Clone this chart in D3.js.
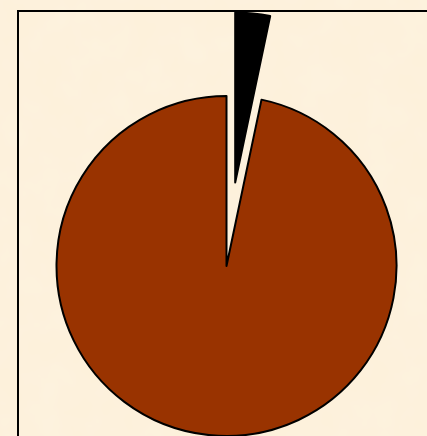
<!DOCTYPE html>
<html>
<head>
<meta charset="utf-8">
<script src="https://cdn.jsdelivr.net/npm/d3@7"></script>
<style>
  html, body { margin: 0; padding: 0; overflow: hidden; background: #fcf0da; }
</style>
</head>
<body>
<div id="app"></div>
<script>
// pie data
var labels = ["Part", "Rest"]
var values = [3.3, 96.7]
var colors = ["#000000", "#993300"]
var explode = [84, 0]

var w = 427
var h = 436
var cx = 226.5
var cy = 266
var r = 170

const svg = d3.select("#app")
    .append("svg")
    .attr("width", w)
    .attr("height", h)

// parchment texture
const defs = svg.append("defs")
const filt = defs.append("filter")
    .attr("id", "paper")
    .attr("x", 0).attr("y", 0).attr("width", "100%").attr("height", "100%")
filt.append("feTurbulence")
    .attr("type", "fractalNoise")
    .attr("baseFrequency", 0.03)
    .attr("numOctaves", 3)
    .attr("seed", 4)
    .attr("result", "noise")
filt.append("feColorMatrix")
    .attr("in", "noise")
    .attr("type", "matrix")
    .attr("values", "0 0 0 0 0.97  0 0 0 0 0.91  0 0 0 0 0.80  0 0 0 0.45 -0.12")
    .attr("result", "tint")
filt.append("feComposite")
    .attr("in", "tint")
    .attr("in2", "SourceGraphic")
    .attr("operator", "over")

svg.append("rect")
    .attr("width", w)
    .attr("height", h)
    .attr("fill", "#fdf1db")
    .attr("filter", "url(#paper)")

// frame (runs off the page on right and bottom)
svg.append("rect")
    .attr("x", 18)
    .attr("y", 11)
    .attr("width", w + 20)
    .attr("height", h + 20)
    .attr("fill", "none")
    .attr("stroke", "#000")
    .attr("stroke-width", 2)

const pie = d3.pie().sort(null).value(d => d)
const arcs = pie(values)
const arc = d3.arc().innerRadius(0).outerRadius(r)

const g = svg.append("g")
    .attr("transform", "translate(" + cx + "," + cy + ")")

g.selectAll(".slice")
    .data(arcs)
    .enter()
    .append("path")
    .attr("class", "slice")
    .attr("d", arc)
    .attr("fill", (d, i) => colors[i])
    .attr("stroke", "#000")
    .attr("stroke-width", 2)
    .attr("stroke-linejoin", "round")
    .attr("transform", (d, i) => {
        var a = (d.startAngle + d.endAngle) / 2
        return "translate(" + (Math.sin(a) * explode[i]) + "," + (-Math.cos(a) * explode[i]) + ")"
    })
    .append("title")
    .text((d, i) => labels[i])
</script>
</body>
</html>
